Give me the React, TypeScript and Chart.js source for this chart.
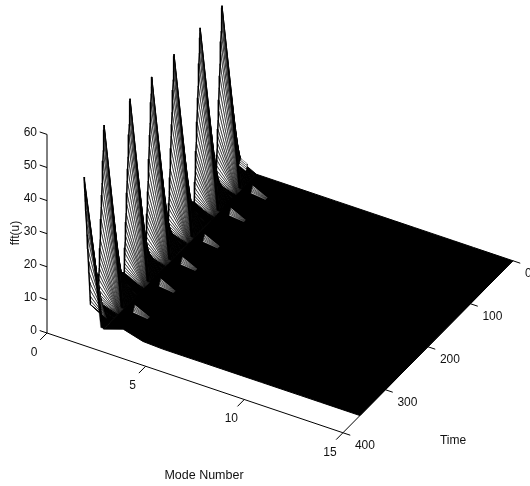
import React, { useEffect, useRef } from "react";
import { Chart, registerables } from "chart.js";

Chart.register(...registerables);

// ---------- axis ticks ----------
const modeTicks = [0, 5, 10, 15];
const timeTicks = [0, 100, 200, 300, 400];
const fftTicks = [0, 10, 20, 30, 40, 50, 60];

// ---------- values ----------
const peakTimes = [34.6, 86, 147.5, 200, 251, 312];
const riseOffsets = [-45, -30, -22, -15, -10, -6, -3, 0];
const riseHeights = [3, 5, 10, 17, 26, 36, 45, 53.4];
const decayOffsets = [0, 0.15, 0.4, 0.8, 1.4, 2.1, 2.9, 3.75, 4.75, 5.7, 6.7, 7.65, 8.5, 9.35, 10.05, 10.6, 11.15, 11.65, 12.15, 12.6, 13, 13.4, 13.7, 13.95, 14.2, 14.4];
const decayHeights = [53.4, 52.8, 52, 50.5, 48.5, 46, 43, 40, 36.5, 33, 29.5, 26, 23, 20, 17.5, 15.5, 13.5, 11.7, 10, 8.5, 6.8, 5.5, 4.4, 3.5, 2.7, 2];
const baselineTimes = [0, 335, 344];
const baselineHeights = [3, 2, 3.3];
const lastSpikeTimes = [359, 358.7, 358.3, 357.8, 357, 356.1, 355, 353.7, 352.2, 350.6, 349.1, 347.8, 346.7, 345.7, 345, 344.4, 344];
const lastSpikeHeights = [43.8, 43, 42, 40.5, 38.5, 36, 33, 29.5, 25.5, 21, 17, 13.5, 10.5, 8, 6, 4.5, 3.3];
const tuftOffsets = [0, 0.7, 1.4, 2.1, 2.8, 3.5, 4.2];
const tuftHeights = [2.2, 1.9, 1.6, 1.3, 1, 0.7, 0.4];
const edgeTuftTimes = [0, 1, 2, 3, 4];
const edgeTuftHeights = [3.2, 2.8, 2.4, 2, 1.6];
const groundModes = [2, 3, 4, 5, 6, 7, 8, 9, 10, 11, 12, 13, 14, 15];
const backEdgeHeights = [0, 0, 0, 0, 0, 0, 0, 0, 0, 0, 0, 0, 0, 0];
const frontEdgeHeights = [0, 2, 0.3, 0, 0, 0, 0, 0, 0, 0, 0, 0, 0, 0];
const lastTime = 360;
const cornerModes = [1, 1.55, 2, 2];
const cornerTimes = [344, 344, 359, 344];
const cornerHeights = [3.3, 1.65, 0, 0];

// ---------- oblique 3-D view onto the flat chart plane ----------
const project = (m: number, t: number, z: number) => ({
  x: 217 + m * 19.73 - t * 0.425,
  y: 161 + m * 6.65 + t * 0.43 - z * 3.31,
});

type P = { x: number; y: number };
const poly = (pts: P[], fillColor: string, width: number) => ({
  data: [...pts, pts[0]],
  showLine: true,
  pointRadius: 0,
  borderColor: "#000",
  borderWidth: width,
  borderJoinStyle: "bevel",
  backgroundColor: fillColor,
  fill: "shape",
});
const path = (pts: P[], width: number) => ({
  data: pts,
  showLine: true,
  pointRadius: 0,
  borderColor: "#000",
  borderWidth: width,
  borderJoinStyle: "bevel",
  fill: false,
});
const line = (a: P, b: P, width = 1) => path([a, b], width);

function buildDatasets() {
  const out: any[] = [];
  // ground plane, m >= 2
  const back = groundModes.map((m, i) => project(m, 0, backEdgeHeights[i]));
  const front = groundModes.map((m, i) => project(m, lastTime, frontEdgeHeights[i])).reverse();
  out.push(poly([...back, ...front], "#000", 1));

  // mode-1 / mode-2 strip, back to front
  let prev = { t: baselineTimes[0], z: baselineHeights[0] };
  const quad = (a: { t: number; z: number }, b: { t: number; z: number }, color: string, w: number) =>
    poly([project(1, a.t, a.z), project(2, a.t, 0), project(2, b.t, 0), project(1, b.t, b.z)], color, w);
  const band = (t: number, z: number) =>
    poly([project(1, t, z), project(2, t, 0), project(1.84, t, 0)], "#000", 0.3);

  peakTimes.forEach((t0) => {
    riseOffsets.forEach((o, k) => {
      const t = t0 + o;
      if (t <= prev.t) return;
      const cur = { t, z: riseHeights[k] };
      out.push(quad(prev, cur, "#000", 1));
      prev = cur;
    });
    decayOffsets.forEach((o, k) => {
      const cur = { t: t0 + o, z: decayHeights[k] };
      if (k > 0) out.push(quad(prev, cur, "#fff", 0.62));
      prev = cur;
    });
    out.push(band(t0, decayHeights[0]));
    out.push(path(decayOffsets.map((o, k) => project(1, t0 + o, decayHeights[k])), 1.3));
    // small ripple on the higher modes
    tuftOffsets.forEach((o, k) => {
      if (k === 0) return;
      const ta = t0 + tuftOffsets[k - 1];
      const tb = t0 + o;
      out.push(
        poly(
          [project(2.55, ta, tuftHeights[k - 1]), project(3.3, ta, 0), project(3.3, tb, 0), project(2.55, tb, tuftHeights[k])],
          "#fff",
          0.45
        )
      );
    });
  });

  // flat stretch before the last spike
  const b1 = { t: baselineTimes[1], z: baselineHeights[1] };
  const b2 = { t: baselineTimes[2], z: baselineHeights[2] };
  out.push(quad(prev, b1, "#000", 1));
  out.push(quad(b1, b2, "#000", 1));

  // last spike is cut by the end of the record
  lastSpikeTimes.forEach((t, k) => {
    if (k === 0) return;
    out.push(
      quad({ t: lastSpikeTimes[k - 1], z: lastSpikeHeights[k - 1] }, { t, z: lastSpikeHeights[k] }, "#fff", 0.62)
    );
  });
  out.push(band(lastSpikeTimes[0], lastSpikeHeights[0]));
  out.push(path(lastSpikeTimes.map((t, k) => project(1, t, lastSpikeHeights[k])), 1.3));
  out.push(poly(cornerModes.map((m, i) => project(m, cornerTimes[i], cornerHeights[i])), "#000", 1));

  // ripple at the start of the record
  edgeTuftTimes.forEach((t, k) => {
    if (k === 0) return;
    const ta = edgeTuftTimes[k - 1];
    out.push(
      poly(
        [project(1.2, ta, edgeTuftHeights[k - 1]), project(1.55, ta, edgeTuftHeights[k - 1] - 1), project(1.55, t, edgeTuftHeights[k] - 1), project(1.2, t, edgeTuftHeights[k])],
        "#fff",
        0.4
      )
    );
  });

  // axes
  out.push(line(project(0, 400, 0), project(0, 400, 60)));
  out.push(line(project(0, 400, 0), project(15, 400, 0)));
  out.push(line(project(15, 0, 0), project(15, 400, 0)));
  fftTicks.forEach((z) => out.push(line(project(0, 400, z), project(-0.37, 400, z))));
  modeTicks.forEach((m) => out.push(line(project(m, 400, 0), project(m, 416, 0))));
  timeTicks.forEach((t) => out.push(line(project(15, t, 0), project(15.37, t, 0))));

  const n = out.length;
  out.forEach((d, i) => (d.order = n - i));
  return out;
}

const labelsPlugin = {
  id: "labels3d",
  afterDraw(chart: any) {
    const { ctx, scales } = chart;
    const X = (v: number) => scales.x.getPixelForValue(v);
    const Y = (v: number) => scales.y.getPixelForValue(v);
    ctx.save();
    ctx.fillStyle = "#111";
    ctx.font = '12px "Liberation Sans"';
    ctx.textBaseline = "middle";

    ctx.textAlign = "right";
    fftTicks.forEach((z) => {
      const p = project(0, 400, z);
      ctx.fillText(String(z), X(p.x) - 10, Y(p.y) - 2);
    });
    ctx.textAlign = "center";
    modeTicks.forEach((m) => {
      const p = project(m, 400, 0);
      ctx.fillText(String(m), X(p.x) - 13, Y(p.y) + 19.5);
    });
    ctx.textAlign = "left";
    timeTicks.forEach((t) => {
      const p = project(15, t, 0);
      ctx.fillText(String(t), X(p.x) + 12, Y(p.y) + 13);
    });

    ctx.textAlign = "center";
    ctx.fillText("Time", X(453), Y(441));
    ctx.font = '12.5px "Liberation Sans"';
    ctx.fillText("Mode Number", X(204), Y(476));
    ctx.font = '12px "Liberation Sans"';
    ctx.translate(X(16), Y(233));
    ctx.rotate(-Math.PI / 2);
    ctx.fillText("fft(u)", 0, 0);
    ctx.restore();
  },
};

export default function App() {
  const ref = useRef<HTMLCanvasElement>(null);
  useEffect(() => {
    const chart = new Chart(ref.current as HTMLCanvasElement, {
      type: "scatter",
      data: { datasets: buildDatasets() },
      options: {
        animation: false,
        responsive: false,
        events: [],
        layout: { padding: 0 },
        plugins: { legend: { display: false }, tooltip: { enabled: false }, title: { display: false } },
        scales: {
          x: { type: "linear", min: 0, max: 530, display: false },
          y: { type: "linear", min: 0, max: 486, reverse: true, display: false },
        },
      },
      plugins: [labelsPlugin],
    } as any);
    return () => chart.destroy();
  }, []);
  return (
    <canvas
      ref={ref}
      width={530}
      height={486}
      style={{ position: "fixed", left: 0, top: 0, display: "block", background: "#fff" }}
    />
  );
}
